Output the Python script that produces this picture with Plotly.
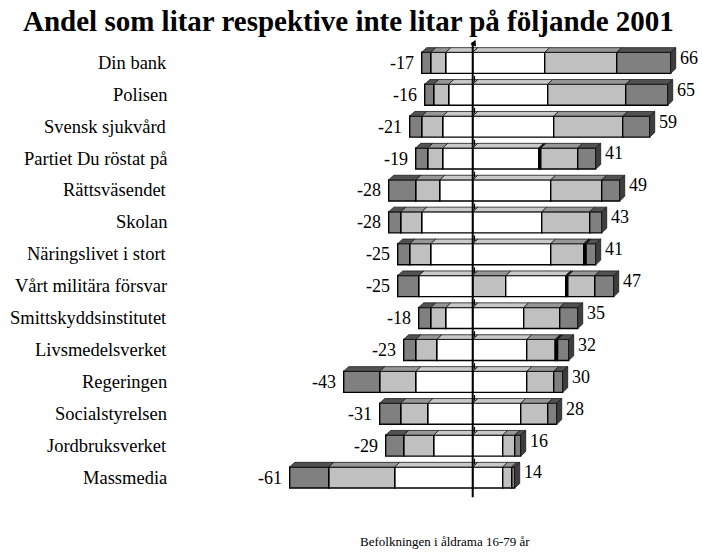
import plotly.graph_objects as go

categories = ["Din bank", "Polisen", "Svensk sjukvård", "Partiet Du röstat på",
              "Rättsväsendet", "Skolan", "Näringslivet i stort", "Vårt militära försvar",
              "Smittskyddsinstitutet", "Livsmedelsverket", "Regeringen", "Socialstyrelsen",
              "Jordbruksverket", "Massmedia"]

# left side (distrust), listed from the centre outwards
white_left = [9, 8, 10, 10, 11, 17, 14, 18, 9, 12, 19, 15, 13, 26]
light_left = [5, 5, 7, 5, 8, 7, 7, 0, 5, 7, 12, 9, 10, 22]
dark_left = [3, 3, 4, 4, 9, 4, 4, 7, 4, 4, 12, 7, 6, 13]

# right side (trust), listed from the centre outwards
light_inner = [0, 0, 0, 0, 0, 0, 0, 11, 0, 0, 0, 0, 0, 0]
white_right = [24, 25, 27, 22, 26, 23, 26, 20, 17, 18, 18, 16, 10, 10]
black_a = [0, 0, 0, 0.7, 0, 0, 0, 0.7, 0, 0, 0, 0, 0, 0]
light_right = [24, 26, 23, 12.3, 17, 16, 11, 9, 12, 9.5, 9, 9, 4, 3]
black_b = [0, 0, 0, 0, 0, 0, 0.8, 0, 0, 0.8, 0, 0, 0, 0]
dark_right = [18, 14, 9, 6, 6, 4, 3.2, 6.3, 6, 3.7, 3, 3, 2, 1]

title_text = "Andel som litar respektive inte litar på följande 2001"
footer_text = "Befolkningen i åldrama 16-79 år"

DARK, LIGHT, WHITE, BLACK = "#808080", "#c0c0c0", "#ffffff", "#000000"
TOP = {DARK: "#525252", LIGHT: "#979797", WHITE: "#c9c9c9", BLACK: "#111111"}
SIDE = {DARK: "#3e3e3e", LIGHT: "#6e6e6e", WHITE: "#9a9a9a", BLACK: "#000000"}

FONT = "Liberation Serif"
n = len(categories)
ys = list(range(n))
BW = 0.66          # bar thickness (category units)
DX = 1.67          # 3D depth in x (value units)
DY = 0.145         # 3D depth in y (category units)

neg_series = [(white_left, WHITE), (light_left, LIGHT), (dark_left, DARK)]
pos_series = [(light_inner, LIGHT), (white_right, WHITE), (black_a, BLACK),
              (light_right, LIGHT), (black_b, BLACK), (dark_right, DARK)]

fig = go.Figure()

def nz(vals, sign):
    return [sign * v if v else None for v in vals]

for vals, col in neg_series:
    fig.add_trace(go.Bar(x=nz(vals, -1), y=ys, orientation="h", width=BW,
                         marker=dict(color=col, line=dict(color="black", width=1.4)),
                         showlegend=False, hoverinfo="skip"))
for vals, col in pos_series:
    fig.add_trace(go.Bar(x=nz(vals, 1), y=ys, orientation="h", width=BW,
                         marker=dict(color=col, line=dict(color="black", width=1.4)),
                         showlegend=False, hoverinfo="skip"))

# 3D top faces and right side faces, derived from the stacked data
polys = {}
sides = {}
left_tot, right_tot = [], []
for i in range(n):
    segs = []
    pos = 0
    for vals, col in neg_series:
        v = vals[i]
        if v:
            segs.append((pos - v, pos, col))
            pos -= v
    left_tot.append(-pos)
    pos = 0
    last = None
    for vals, col in pos_series:
        v = vals[i]
        if v:
            segs.append((pos, pos + v, col))
            pos += v
            last = col
    right_tot.append(pos)
    top = i - BW / 2
    for x0, x1, col in segs:
        xs, yy = polys.setdefault(col, ([], []))
        xs += [x0, x0 + DX, x1 + DX, x1, x0, None]
        yy += [top, top - DY, top - DY, top, top, None]
    xs, yy = sides.setdefault(last, ([], []))
    xe = pos
    xs += [xe, xe + DX, xe + DX, xe, xe, None]
    yy += [top, top - DY, i + BW / 2 - DY, i + BW / 2, top, None]

for col, (xs, yy) in polys.items():
    fig.add_trace(go.Scatter(x=xs, y=yy, mode="lines", fill="toself", fillcolor=TOP[col],
                             line=dict(color="#1a1a1a", width=0.8),
                             showlegend=False, hoverinfo="skip"))
for col, (xs, yy) in sides.items():
    fig.add_trace(go.Scatter(x=xs, y=yy, mode="lines", fill="toself", fillcolor=SIDE[col],
                             line=dict(color="#1a1a1a", width=0.8),
                             showlegend=False, hoverinfo="skip"))

# small axis ticks
fig.add_trace(go.Scatter(x=[0.6] * (n - 1), y=[i + 0.5 for i in range(n - 1)], mode="markers",
                         marker=dict(symbol="line-ns", size=4, line=dict(color="black", width=1.2)),
                         showlegend=False, hoverinfo="skip"))

# centre axis
fig.add_shape(type="line", x0=0, x1=0, y0=-0.65, y1=13.62, xref="x", yref="y",
              line=dict(color="black", width=2), layer="above")
fig.add_annotation(x=0.9, y=-0.72, ax=0, ay=-0.5, xref="x", yref="y", axref="x", ayref="y",
                   text="", showarrow=True, arrowhead=2, arrowsize=0.8, arrowwidth=1.5,
                   arrowcolor="black")

annotations = []
for i, c in enumerate(categories):
    annotations.append(dict(x=169 / 703, y=i, xref="paper", yref="y", text=c,
                            xanchor="right", yanchor="middle", showarrow=False,
                            font=dict(family=FONT, size=18.5, color="black")))
    annotations.append(dict(x=-left_tot[i] - 1.9, y=i, xref="x", yref="y",
                            text=f"-{round(left_tot[i])}", xanchor="right", yanchor="middle",
                            showarrow=False, font=dict(family=FONT, size=18, color="black")))
    annotations.append(dict(x=right_tot[i] + DX + 0.8, y=i - 0.16, xref="x", yref="y",
                            text=f"{round(right_tot[i])}", xanchor="left", yanchor="middle",
                            showarrow=False, font=dict(family=FONT, size=18, color="black")))

annotations.append(dict(x=348.5 / 703, y=1 - 21 / 556, xref="paper", yref="paper",
                        text=f"<b>{title_text}</b>", xanchor="center", yanchor="middle",
                        showarrow=False, font=dict(family=FONT, size=29, color="black")))
annotations.append(dict(x=445 / 703, y=1 - 541 / 556, xref="paper", yref="paper",
                        text=footer_text, xanchor="center", yanchor="middle",
                        showarrow=False, font=dict(family=FONT, size=13, color="black")))

for a in annotations:
    fig.add_annotation(**a)

px_per_unit = 3.0
x0_px = 472.7
y0_px, row_px = 62.8, 31.9
fig.update_layout(
    width=703, height=556,
    margin=dict(l=0, r=0, t=0, b=0),
    barmode="relative",
    paper_bgcolor="white", plot_bgcolor="white",
    xaxis=dict(visible=False, range=[-x0_px / px_per_unit, (703 - x0_px) / px_per_unit]),
    yaxis=dict(visible=False, range=[(556 - y0_px) / row_px, -y0_px / row_px]),
)

fig.write_html("out.html", config={"displayModeBar": False},
               post_script="document.body.style.margin='0';document.body.style.padding='0';")
